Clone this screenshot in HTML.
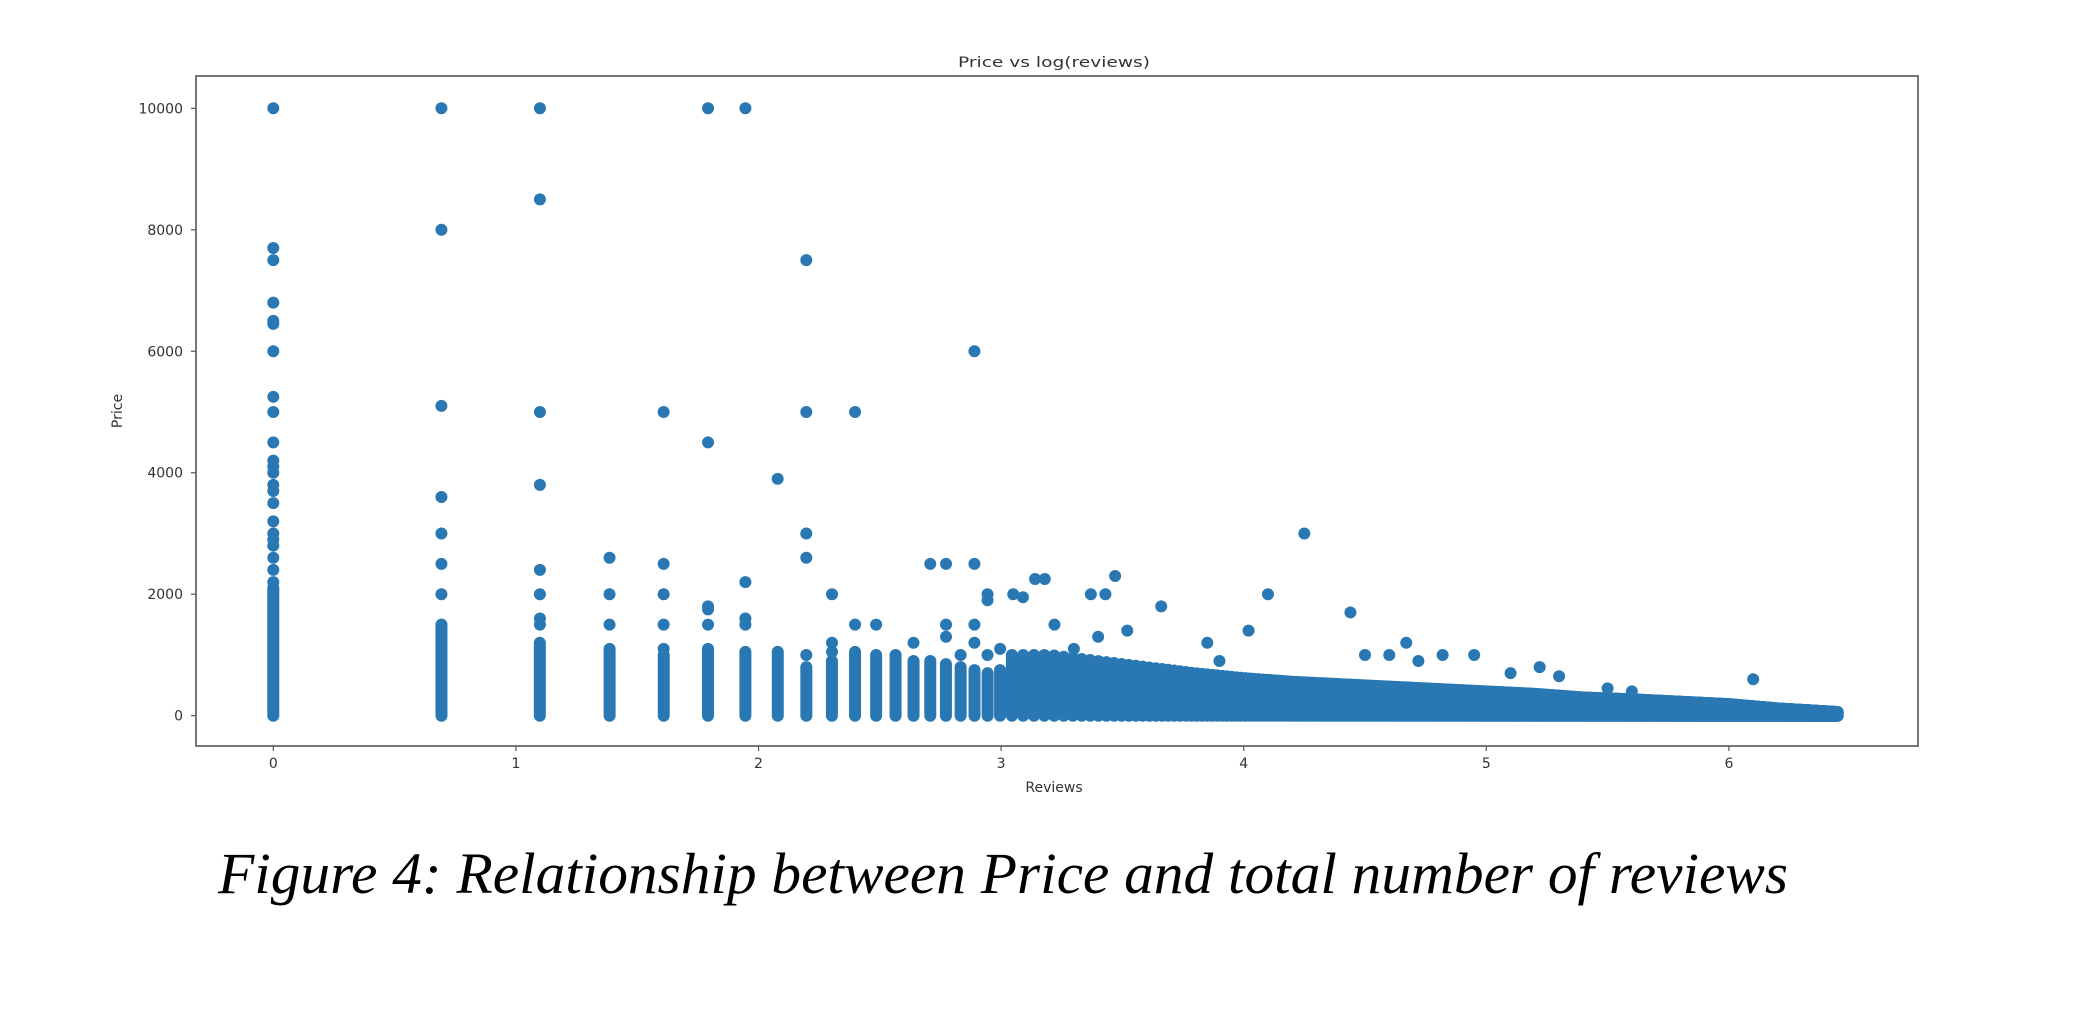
<!DOCTYPE html>
<html><head><meta charset="utf-8"><title>Price vs log(reviews)</title>
<style>html,body{margin:0;padding:0;background:#fff;}svg{display:block;}</style></head>
<body>
<svg id="chart" width="2096" height="1028" viewBox="0 0 2096 1028" xmlns="http://www.w3.org/2000/svg">
<rect width="2096" height="1028" fill="#fff"/>
<g id="marks"></g>
<rect x="196" y="76" width="1722" height="670" fill="none" stroke="#555" stroke-width="1.6"/>
<g id="axes"></g>
<text x="1054" y="67" text-anchor="middle" font-family="DejaVu Sans, sans-serif" font-size="14" fill="#333" textLength="192" lengthAdjust="spacingAndGlyphs">Price vs log(reviews)</text>
<text x="1054" y="792" text-anchor="middle" font-family="DejaVu Sans, sans-serif" font-size="14" fill="#333">Reviews</text>
<text transform="translate(122,411) rotate(-90)" text-anchor="middle" font-family="DejaVu Sans, sans-serif" font-size="14" fill="#333">Price</text>
<text x="218" y="893" font-family="Liberation Serif, serif" font-style="italic" font-size="58" fill="#000" textLength="1570" lengthAdjust="spacingAndGlyphs">Figure 4: Relationship between Price and total number of reviews</text>
</svg>
<script>
// ---- data ----
const xTicks = [0, 1, 2, 3, 4, 5, 6];
const yTicks = [0, 2000, 4000, 6000, 8000, 10000];
// discrete review-count columns (n reviews -> x = ln n) with dense band top
const columnCounts = [1,2,3,4,5,6,7,8,9,10,11,12,13,14,15,16,17,18,19,20];
const columnBandTop = [2100,1500,1200,1100,1000,1100,1050,1050,800,900,1000,1000,1000,900,900,850,800,750,700,750];
// dense blob envelope beyond x=3 (log reviews -> max price of band)
const blobX = [3.0,3.2,3.4,3.6,3.8,4.0,4.2,4.4,4.6,4.8,5.0,5.2,5.4,5.6,5.8,6.0,6.2,6.45];
const blobTop = [1000,1000,900,800,700,620,560,520,480,440,400,360,300,270,230,190,120,60];
// outlier points
const outX = [0,0,0,0,0,0,0,0,0,0,0,0,0,0,0,0,0,0,0,0,0,0,0,
  0.693,0.693,0.693,0.693,0.693,0.693,0.693,
  1.099,1.099,1.099,1.099,1.099,1.099,1.099,1.099,
  1.386,1.386,1.386,
  1.609,1.609,1.609,1.609,1.609,
  1.792,1.792,1.792,1.792,1.792,
  1.946,1.946,1.946,1.946,
  2.079,
  2.197,2.197,2.197,2.197,2.197,
  2.303,2.303,2.303,
  2.398,2.398,2.398,
  2.485,2.639,2.708,2.773,2.773,2.773,2.833,2.890,2.890,2.890,2.890,2.944,2.944,2.944,2.996,
  3.05,3.09,3.14,3.18,3.22,3.37,3.43,3.47,3.40,3.66,3.52,3.30,4.02,4.10,4.25,4.44,4.67,4.60,4.82,4.95,5.22,5.10,6.10,3.85,3.90,4.50,5.50,5.30,5.60,4.72];
const outY = [10000,7700,7500,6800,6500,6450,6000,5250,5000,4500,4200,4100,4000,3800,3700,3500,3200,3000,2900,2800,2600,2400,2200,
  10000,8000,5100,3600,3000,2500,2000,
  10000,8500,5000,3800,2400,2000,1600,1500,
  2600,2000,1500,
  5000,2500,2000,1500,1100,
  10000,4500,1800,1750,1500,
  10000,2200,1600,1500,
  3900,
  7500,5000,3000,2600,1000,
  2000,1200,1050,
  5000,1500,1050,
  1500,1200,2500,2500,1500,1300,1000,6000,2500,1500,1200,2000,1900,1000,1100,
  2000,1950,2250,2250,1500,2000,2000,2300,1300,1800,1400,1100,1400,2000,3000,1700,1200,1000,1000,1000,800,700,600,1200,900,1000,450,650,400,900];

// ---- scales ----
const X0 = 273.3, XS = 242.6, Y0 = 715.7, YS = 0.06074;
function sx(v){ return X0 + v*XS; }
function sy(v){ return Y0 - v*YS; }
function envelope(x){
  if (x <= blobX[0]) return blobTop[0];
  for (let i=1;i<blobX.length;i++){
    if (x <= blobX[i]){ const t=(x-blobX[i-1])/(blobX[i]-blobX[i-1]); return blobTop[i-1]+t*(blobTop[i]-blobTop[i-1]); }
  }
  return null;
}
const NS = 'http://www.w3.org/2000/svg';
const marks = document.getElementById('marks');
const COL = '#2a78b3';
function band(x, top, name){
  const l = document.createElementNS(NS,'line');
  l.setAttribute('x1', sx(x)); l.setAttribute('x2', sx(x));
  l.setAttribute('y1', sy(0)); l.setAttribute('y2', sy(top));
  l.setAttribute('stroke', COL); l.setAttribute('stroke-width', 12); l.setAttribute('stroke-linecap','round');
  
  
  marks.appendChild(l);
}
columnCounts.forEach((n,i)=>{ band(Math.log(n), columnBandTop[i], 'column-band'); });
const lastX = blobX[blobX.length-1];
for (let n=21; Math.log(n) <= lastX; n++){
  const x = Math.log(n);
  band(x, envelope(x), 'blob-band');
}
outX.forEach((x,i)=>{
  const c = document.createElementNS(NS,'circle');
  c.setAttribute('cx', sx(x)); c.setAttribute('cy', sy(outY[i])); c.setAttribute('r', 6);
  c.setAttribute('fill', COL);
  
  
  marks.appendChild(c);
});
// ---- axes ----
const axes = document.getElementById('axes');
xTicks.forEach(v=>{
  const t = document.createElementNS(NS,'line');
  t.setAttribute('x1', sx(v)); t.setAttribute('x2', sx(v)); t.setAttribute('y1', 746); t.setAttribute('y2', 751);
  t.setAttribute('stroke', '#555'); t.setAttribute('stroke-width', 1.2);
  
  
  axes.appendChild(t);
  const s = document.createElementNS(NS,'text');
  s.setAttribute('x', sx(v)); s.setAttribute('y', 768); s.setAttribute('text-anchor','middle');
  s.setAttribute('font-family','DejaVu Sans, sans-serif'); s.setAttribute('font-size','14'); s.setAttribute('fill','#333');
  s.textContent = v;
  
  
  axes.appendChild(s);
});
yTicks.forEach(v=>{
  const t = document.createElementNS(NS,'line');
  t.setAttribute('x1', 191); t.setAttribute('x2', 196); t.setAttribute('y1', sy(v)); t.setAttribute('y2', sy(v));
  t.setAttribute('stroke', '#555'); t.setAttribute('stroke-width', 1.2);
  
  
  axes.appendChild(t);
  const s = document.createElementNS(NS,'text');
  s.setAttribute('x', 183); s.setAttribute('y', sy(v)+5); s.setAttribute('text-anchor','end');
  s.setAttribute('font-family','DejaVu Sans, sans-serif'); s.setAttribute('font-size','14'); s.setAttribute('fill','#333');
  s.textContent = v;
  
  
  axes.appendChild(s);
});
</script>
</body></html>
